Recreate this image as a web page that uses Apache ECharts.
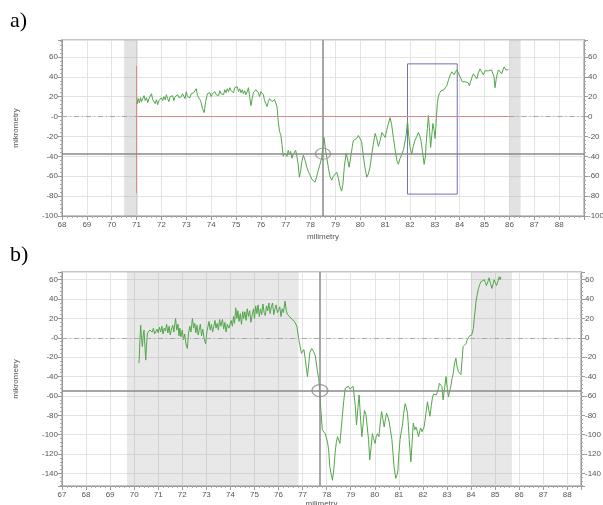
<!DOCTYPE html>
<html><head><meta charset="utf-8">
<script src="https://cdn.jsdelivr.net/npm/echarts@6/dist/echarts.min.js"></script>
<style>html,body{margin:0;padding:0;background:#fff}#c{width:603px;height:505px}</style>
</head><body><div id="c"></div>
<script>
// ---- Panel a) profile ----
const aX=[71.00,71.04,71.08,71.12,71.16,71.20,71.25,71.30,71.35,71.40,71.45,71.50,71.55,71.60,71.65,71.70,71.75,71.80,71.85,71.90,71.95,72.00,72.05,72.10,72.15,72.20,72.25,72.30,72.35,72.40,72.45,72.50,72.55,72.60,72.65,72.70,72.75,72.80,72.85,72.90,72.95,73.00,73.05,73.10,73.15,73.20,73.25,73.30,73.35,73.40,73.45,73.50,73.55,73.60,73.65,73.72,73.78,73.85,73.90,73.95,74.00,74.05,74.10,74.15,74.20,74.25,74.30,74.35,74.40,74.45,74.50,74.55,74.60,74.65,74.70,74.75,74.80,74.85,74.90,74.95,75.00,75.05,75.10,75.15,75.20,75.25,75.30,75.35,75.40,75.45,75.50,75.55,75.60,75.65,75.70,75.75,75.80,75.85,75.90,75.95,76.00,76.05,76.10,76.15,76.20,76.25,76.30,76.35,76.40,76.45,76.50,76.55,76.60,76.65,76.70,76.75,76.80,76.85,76.90,76.95,77.00,77.05,77.10,77.15,77.20,77.25,77.30,77.35,77.40,77.45,77.50,77.55,77.60,77.65,77.71,77.78,77.85,77.92,77.98,78.05,78.12,78.18,78.25,78.31,78.38,78.45,78.50,78.54,78.60,78.65,78.72,78.78,78.85,78.92,78.98,79.05,79.12,79.18,79.25,79.30,79.36,79.43,79.50,79.55,79.62,79.68,79.72,79.78,79.86,79.92,79.99,80.05,80.12,80.18,80.26,80.32,80.39,80.45,80.52,80.60,80.66,80.73,80.80,80.87,80.94,81.00,81.06,81.12,81.20,81.26,81.33,81.40,81.47,81.53,81.60,81.67,81.74,81.80,81.85,81.90,81.95,82.00,82.07,82.13,82.20,82.27,82.34,82.40,82.45,82.50,82.57,82.62,82.65,82.70,82.74,82.79,82.83,82.88,82.92,82.97,83.01,83.06,83.10,83.14,83.18,83.25,83.32,83.37,83.41,83.48,83.55,83.62,83.68,83.73,83.77,83.82,83.88,83.94,83.99,84.05,84.10,84.15,84.22,84.29,84.34,84.39,84.45,84.50,84.55,84.62,84.69,84.75,84.82,84.88,84.95,85.02,85.09,85.15,85.22,85.28,85.33,85.38,85.42,85.47,85.52,85.56,85.62,85.69,85.74,85.79,85.85,85.90,85.96];
const aY=[20,13,18,14,19,15,18,21,16,19,14,18,20,23,17,19,13,17,12,16,14,19,16,20,17,22,18,15,20,18,21,16,20,18,22,19,21,20,23,21,18,25,20,22,19,23,21,24,22,28,21,19,17,14,8,4,15,23,21,24,20,23,21,25,22,24,21,26,23,25,22,27,24,28,25,29,26,28,24,29,27,30,25,28,24,27,23,26,22,25,29,20,11,18,24,22,27,28,24,20,25,27,22,16,13,10,15,18,17,15,16,17,15,10,-5,-15,-18,-28,-40,-37,-36,-40,-34,-38,-35,-42,-38,-40,-34,-40,-48,-61,-55,-45,-39,-44,-51,-56,-59,-63,-61,-66,-60,-54,-48,-41,-30,-21,-33,-41,-52,-60,-64,-60,-62,-56,-62,-70,-75,-68,-50,-37,-44,-51,-40,-30,-24,-26,-22,-19,-17,-25,-39,-50,-61,-58,-51,-40,-28,-17,-22,-30,-24,-16,-18,-21,-14,-8,-1,-8,-21,-33,-44,-48,-42,-38,-33,-31,-18,-4,-20,-31,-38,-30,-24,-20,-16,-20,-25,-35,-48,-40,-27,-12,1,-15,-31,-18,-7,-14,-22,-2,13,20,23,26,28,27,25,31,37,42,45,43,42,44,47,44,42,38,35,33,35,37,34,31,36,40,43,41,38,44,48,45,42,46,48,46,45,47,48,40,29,38,44,47,45,43,47,50,47,45,47];
// ---- Panel b) profile ----
const bX=[70.20,70.24,70.27,70.30,70.34,70.38,70.41,70.45,70.48,70.52,70.55,70.60,70.65,70.69,70.75,70.80,70.85,70.90,70.95,71.00,71.05,71.10,71.15,71.20,71.25,71.30,71.35,71.40,71.45,71.50,71.55,71.60,71.65,71.72,71.77,71.82,71.86,71.90,71.94,72.00,72.05,72.10,72.15,72.21,72.26,72.31,72.36,72.42,72.47,72.52,72.56,72.61,72.66,72.70,72.75,72.80,72.85,72.90,72.97,73.02,73.07,73.11,73.16,73.21,73.26,73.31,73.36,73.40,73.45,73.50,73.55,73.60,73.67,73.72,73.77,73.82,73.87,73.94,73.98,74.03,74.08,74.13,74.17,74.22,74.27,74.31,74.36,74.41,74.46,74.51,74.55,74.60,74.65,74.70,74.75,74.80,74.85,74.91,74.96,75.00,75.05,75.10,75.15,75.20,75.25,75.30,75.35,75.40,75.45,75.50,75.55,75.60,75.65,75.70,75.75,75.80,75.85,75.90,75.95,76.00,76.05,76.10,76.15,76.20,76.27,76.32,76.37,76.42,76.46,76.51,76.56,76.61,76.66,76.71,76.76,76.80,76.85,76.90,76.95,76.99,77.05,77.10,77.15,77.20,77.25,77.30,77.38,77.45,77.52,77.57,77.62,77.67,77.71,77.76,77.82,77.88,77.94,78.03,78.08,78.13,78.18,78.24,78.30,78.35,78.40,78.45,78.50,78.55,78.60,78.65,78.71,78.77,78.83,78.90,78.97,79.05,79.10,79.14,79.19,79.24,79.30,79.35,79.40,79.46,79.52,79.57,79.63,79.69,79.74,79.79,79.85,79.90,79.95,80.01,80.06,80.11,80.17,80.22,80.28,80.33,80.39,80.44,80.49,80.55,80.60,80.65,80.71,80.76,80.80,80.87,80.92,80.96,81.00,81.05,81.10,81.15,81.20,81.26,81.31,81.36,81.40,81.43,81.47,81.50,81.55,81.60,81.66,81.71,81.77,81.82,81.87,81.91,81.96,82.01,82.05,82.09,82.14,82.19,82.24,82.29,82.35,82.40,82.45,82.51,82.56,82.61,82.65,82.68,82.74,82.79,82.84,82.90,82.96,83.01,83.06,83.11,83.16,83.21,83.26,83.31,83.37,83.42,83.48,83.53,83.58,83.63,83.67,83.73,83.79,83.84,83.89,83.94,83.99,84.03,84.06,84.10,84.13,84.17,84.20,84.25,84.31,84.36,84.41,84.48,84.55,84.60,84.64,84.70,84.75,84.81,84.87,84.92,84.96,85.01,85.06,85.11,85.17,85.21,85.24];
const bY=[-26,-2,13,2,-9,4,8,-10,-23,-5,5,3,8,10,6,10,4,3,9,5,11,6,12,4,10,7,14,5,12,3,9,13,6,20,8,14,2,10,1,8,-2,4,-6,-11,5,12,6,20,10,15,5,13,3,8,14,2,9,0,-6,6,12,17,8,14,6,12,18,10,15,8,19,12,19,9,16,6,14,10,8,18,12,22,15,31,20,28,17,25,14,27,20,27,18,30,22,28,16,24,30,20,33,25,34,22,30,24,35,26,23,33,28,36,25,32,36,24,30,34,26,24,32,22,30,26,38,28,24,26,22,23,19,20,17,15,12,10,-3,-9,-16,-18,-12,-20,-30,-40,-28,-15,-11,-14,-18,-26,-35,-42,-54,-75,-95,-93,-99,-107,-115,-133,-140,-147,-135,-119,-108,-102,-104,-109,-95,-81,-65,-52,-51,-50,-53,-52,-50,-51,-70,-90,-72,-59,-80,-102,-88,-75,-79,-81,-105,-126,-112,-99,-104,-109,-102,-99,-102,-90,-76,-83,-92,-84,-78,-82,-87,-95,-105,-120,-133,-145,-142,-137,-120,-105,-97,-90,-78,-68,-72,-78,-92,-105,-118,-128,-108,-88,-95,-92,-97,-102,-96,-93,-97,-99,-92,-85,-75,-66,-74,-81,-70,-61,-58,-56,-59,-61,-52,-47,-49,-50,-64,-52,-40,-52,-61,-55,-50,-42,-37,-27,-21,-30,-35,-37,-38,-22,-9,-7,-6,-2,0,2,4,3,2,10,19,28,36,44,51,55,58,57,60,57,54,58,62,56,51,56,60,57,54,58,63,60,63];

// ---- Annotations ----
const aBands=[[70.5,71.05],[86.0,86.45]];
const aRect=[81.9,83.9,-78,53];
const aRedV=[71,51,-77];
const aRedH=[71,86,0];
const aCross=[78.5,-37.5];
const bBands=[[69.7,76.83],[84.0,85.7]];
const bCross=[77.72,-54.5];

const pair=(xs,ys)=>xs.map((x,i)=>[x,ys[i]]);
const lab={fontSize:8,color:'#555',fontFamily:'Liberation Sans'};
const green='#52a64a';
const crossStyle={color:'#8a8a8a',width:1.5,type:'solid'};
const dashDot={color:'#a8a8a8',width:1,type:[5,3,1,3]};
const red={color:'#d98a8a',width:1,type:'solid'};

function xAx(grid,min,max,nameGap){
  return {type:'value',gridIndex:grid,min:min,max:max,interval:1,
    axisLine:{show:true,onZero:false,lineStyle:{color:'#9a9a9a'}},
    axisTick:{show:true,length:4,lineStyle:{color:'#9a9a9a'}},
    minorTick:{show:true,splitNumber:5,length:2,lineStyle:{color:'#aaa'}},
    splitLine:{show:true,lineStyle:{color:'#e3e3e3'}},
    axisLabel:Object.assign({margin:5,formatter:v=>(Number.isInteger(v)&&v<max)?String(v):''},lab),
    name:'milimetry',nameLocation:'middle',nameGap:nameGap,nameTextStyle:Object.assign({},lab)};
}
function yAx(grid,min,max,pos,opts){
  const o={type:'value',gridIndex:grid,min:min,max:max,position:pos,
    axisLine:{show:true,onZero:false,lineStyle:{color:'#9a9a9a'}},
    axisTick:{show:true,length:4,lineStyle:{color:'#9a9a9a'}},
    minorTick:{show:true,splitNumber:5,length:2,lineStyle:{color:'#aaa'}},
    splitLine:{show:pos==='left',lineStyle:{color:'#e3e3e3'}},
    axisLabel:Object.assign({margin:4,formatter:v=>(v%20!==0)?'':(v===0?(pos==='left'?'-0':'0'):String(v))},lab)};
  if(pos==='left'){o.name='mikrometry';o.nameLocation='middle';o.nameGap=42;o.nameTextStyle=Object.assign({},lab);}
  return Object.assign(o,opts||{});
}

const chart=echarts.init(document.getElementById('c'),null,{renderer:'canvas'});
chart.setOption({
  animation:false,
  backgroundColor:'#fff',
  grid:[
    {left:62,top:40,width:522,height:176,show:true,borderColor:'#c6c6c6',borderWidth:2,outerBoundsMode:'none',containLabel:false},
    {left:62,top:272,width:519,height:214,show:true,borderColor:'#c6c6c6',borderWidth:2,outerBoundsMode:'none',containLabel:false}
  ],
  xAxis:[xAx(0,68,89,17),xAx(1,67,88.57,14)],
  yAxis:[
    yAx(0,-100,77,'left',{interval:20}),
    yAx(0,-100,77,'right',{interval:20}),
    yAx(1,-153,68,'left',{splitNumber:11}),
    yAx(1,-153,68,'right',{splitNumber:11})
  ],
  graphic:[
    {type:'text',left:10,top:10,style:{text:'a)',font:'22px "Liberation Serif"',fill:'#000'}},
    {type:'text',left:10,top:244,style:{text:'b)',font:'22px "Liberation Serif"',fill:'#000'}}
  ],
  series:[
    {type:'line',xAxisIndex:0,yAxisIndex:0,data:pair(aX,aY),showSymbol:false,symbol:'none',
      lineStyle:{color:green,width:1},silent:true,z:3,
      markArea:{silent:true,data:[
        [{xAxis:aBands[0][0],itemStyle:{color:'rgba(150,150,150,0.28)'}},{xAxis:aBands[0][1]}],
        [{xAxis:aBands[1][0],itemStyle:{color:'rgba(150,150,150,0.28)'}},{xAxis:aBands[1][1]}],
        [{coord:[aRect[0],aRect[3]],itemStyle:{color:'rgba(0,0,0,0)',borderColor:'#7070b8',borderWidth:1}},{coord:[aRect[1],aRect[2]]}]
      ]},
      markLine:{silent:true,symbol:['none','none'],label:{show:false},data:[
        [{coord:[aRedV[0],aRedV[1]],lineStyle:red},{coord:[aRedV[0],aRedV[2]],lineStyle:red}],
        [{coord:[aRedH[0],aRedH[2]],lineStyle:red},{coord:[aRedH[1],aRedH[2]],lineStyle:red}],
        [{coord:[68,0],lineStyle:dashDot},{coord:[aRedH[0],0],lineStyle:dashDot}],
        [{coord:[aRedH[1],0],lineStyle:dashDot},{coord:[89,0],lineStyle:dashDot}],
        {xAxis:aCross[0],lineStyle:crossStyle},
        {yAxis:aCross[1],lineStyle:crossStyle}
      ]}
    },
    {type:'scatter',xAxisIndex:0,yAxisIndex:0,data:[aCross],symbol:'circle',symbolSize:[15,11],silent:true,z:4,
      itemStyle:{color:'rgba(0,0,0,0)',borderColor:'#8a8a8a',borderWidth:1.2}},
    {type:'line',xAxisIndex:1,yAxisIndex:2,data:pair(bX,bY),showSymbol:false,symbol:'none',
      lineStyle:{color:green,width:1},silent:true,z:3,
      markArea:{silent:true,data:[
        [{xAxis:bBands[0][0],itemStyle:{color:'rgba(150,150,150,0.22)'}},{xAxis:bBands[0][1]}],
        [{xAxis:bBands[1][0],itemStyle:{color:'rgba(150,150,150,0.22)'}},{xAxis:bBands[1][1]}]
      ]},
      markLine:{silent:true,symbol:['none','none'],label:{show:false},data:[
        {yAxis:0,lineStyle:dashDot},
        {xAxis:bCross[0],lineStyle:crossStyle},
        {yAxis:bCross[1],lineStyle:crossStyle}
      ]}
    },
    {type:'scatter',xAxisIndex:1,yAxisIndex:2,data:[bCross],symbol:'circle',symbolSize:[16,12],silent:true,z:4,
      itemStyle:{color:'rgba(0,0,0,0)',borderColor:'#8a8a8a',borderWidth:1.2}}
  ]
});
</script></body></html>
